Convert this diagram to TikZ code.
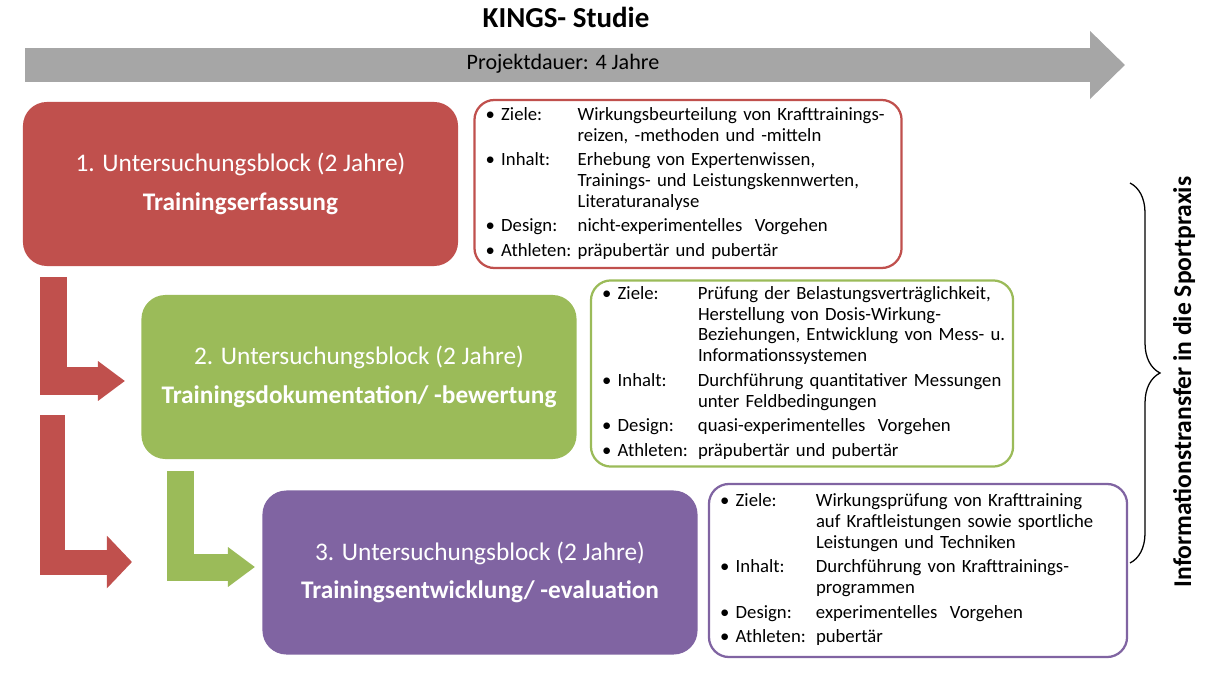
\documentclass[tikz,border=0pt]{standalone}
\usepackage{fontspec}
\setmainfont{Carlito}
\usepackage{xcolor}
\usepackage{tikz}
\usetikzlibrary{
    positioning,
    arrows.meta,
    decorations.pathreplacing
}
\definecolor{blockred}{HTML}{C0504D}
\definecolor{blockgreen}{HTML}{9BBB59}
\definecolor{blockviolet}{HTML}{8064A2}
\definecolor{bargray}{HTML}{A6A6A6}
\tikzset{block/.style={
    minimum width=10.875cm,
    minimum height=4.1cm,
    rounded corners=.6cm,
    text=white,
    align=center,
    font=\fontsize{18}{27.5}\selectfont,
}}
\tikzset{info/.style={
    draw,
    fill=white,
    line width=1.6pt,
    rounded corners=.5cm,
    inner xsep=0.28cm,
    inner ysep=0.1cm,
    font=\fontsize{13.3}{14.9}\selectfont,
}}
\tikzset{turn/.style={
    line width=0.675cm,
    -{Triangle[length=0.675cm 0,width=0.95cm 0]},
}}
\tikzset{timeline/.style={
    draw=bargray,
    line width=0.85cm,
    -{Triangle[length=0.875cm 0,width=1.65cm 0]},
}}

\begin{document}
\begin{tikzpicture}[
                x=0.025cm, y=-0.025cm
        ]
            \useasboundingbox (0,0) rectangle (1208,675);

            \node[font=\fontsize{20.6}{24}\selectfont\bfseries] (title) at (566,17) {KINGS- Studie};

            \coordinate (start) at (25,65);
            \coordinate (end) at (1125,65);
            \draw[timeline] (start) -- (end);
            \node[font=\fontsize{15.7}{18}\selectfont] (dauer) at (563,64) {Projektdauer: 4 Jahre};

            \node[block, fill=blockred] (block1) at (240.5,184)
                {1. Untersuchungsblock (2 Jahre)\\\textbf{Trainingserfassung}};
            \node[block, fill=blockgreen] (block2) at (359,377)
                {2. Untersuchungsblock (2 Jahre)\\\textbf{Trainingsdokumentation/ -bewertung}};
            \node[block, fill=blockviolet] (block3) at (480,572.5)
                {3. Untersuchungsblock (2 Jahre)\\\textbf{Trainingsentwicklung/ -evaluation}};

            \node[info, draw=blockred, text width=10.115cm, minimum height=4.2cm,
                  right=0.375cm of block1] (info1) {%
                \begin{tabular}{@{}p{2.3cm}@{}l@{}}
                \textbullet\ Ziele: & Wirkungsbeurteilung von Krafttrainings-\\
                 & reizen, -methoden und -mitteln\\[2.5pt]
                \textbullet\ Inhalt: & Erhebung von Expertenwissen,\\
                 & Trainings- und Leistungskennwerten,\\
                 & Literaturanalyse\\[2.5pt]
                \textbullet\ Design: & nicht-experimentelles\ \ Vorgehen\\[2.5pt]
                \textbullet\ Athleten: & präpubertär und pubertär
                \end{tabular}};
            \node[info, draw=blockgreen, text width=9.99cm, minimum height=4.625cm,
                  right=0.325cm of block2, yshift=0.0875cm] (info2) {%
                \begin{tabular}{@{}p{2.395cm}@{}l@{}}
                \textbullet\ Ziele: & Prüfung der Belastungsverträglichkeit,\\
                 & Herstellung von Dosis-Wirkung-\\
                 & Beziehungen, Entwicklung von Mess- u.\\
                 & Informationssystemen\\[2.5pt]
                \textbullet\ Inhalt: & Durchführung quantitativer Messungen\\
                 & unter Feldbedingungen\\[2.5pt]
                \textbullet\ Design: & quasi-experimentelles\ \ Vorgehen\\[2.5pt]
                \textbullet\ Athleten: & präpubertär und pubertär
                \end{tabular}};
            \node[info, draw=blockviolet, text width=9.89cm, minimum height=4.325cm,
                  right=0.25cm of block3, yshift=0.05cm] (info3) {%
                \begin{tabular}{@{}p{2.395cm}@{}l@{}}
                \textbullet\ Ziele: & Wirkungsprüfung von Krafttraining\\
                 & auf Kraftleistungen sowie sportliche\\
                 & Leistungen und Techniken\\[2.5pt]
                \textbullet\ Inhalt: & Durchführung von Krafttrainings-\\
                 & programmen\\[2.5pt]
                \textbullet\ Design: & experimentelles\ \ Vorgehen\\[2.5pt]
                \textbullet\ Athleten: & pubertär
                \end{tabular}};

            % L-arrows between the blocks
            \coordinate (red1top) at (53.5,277);
            \coordinate (red1tip) at (125,381);
            \coordinate (red2top) at (52.5,415);
            \coordinate (red2tip) at (132,562);
            \coordinate (green1top) at (180.5,471);
            \coordinate (green1tip) at (255,567);
            \draw[turn, blockred] (red1top) |- (red1tip);
            \draw[turn, blockred, line width=0.625cm,
                  -{Triangle[length=0.625cm 0,width=1.275cm 0]}] (red2top) |- (red2tip);
            \draw[turn, blockgreen] (green1top) |- (green1tip);

            \coordinate (bracetop) at (1130,183);
            \coordinate (bracebot) at (1130,563);
            \draw[line width=0.9pt, decorate, decoration={brace, amplitude=0.75cm}]
                (bracetop) -- (bracebot);
            \node[rotate=90, font=\fontsize{18.2}{21}\selectfont\bfseries] (transfer) at (1184,382)
                {Informationstransfer in die Sportpraxis};

        \end{tikzpicture}
\end{document}
